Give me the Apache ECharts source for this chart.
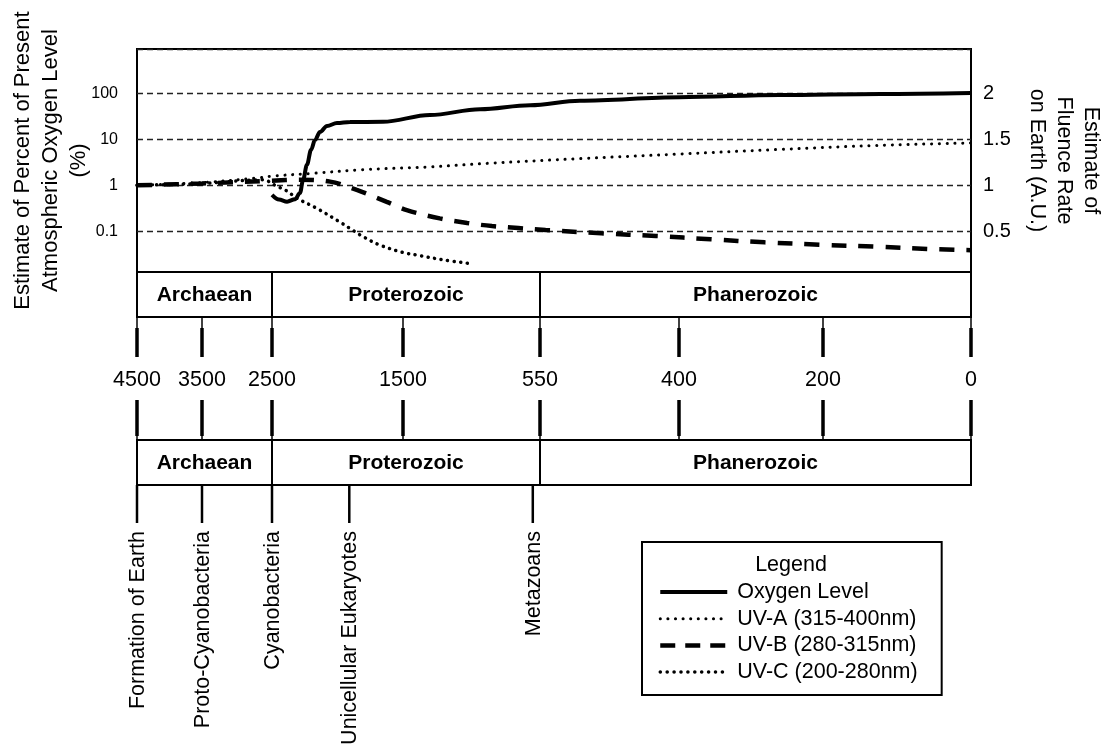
<!DOCTYPE html>
<html><head><meta charset="utf-8">
<script src="https://cdn.jsdelivr.net/npm/echarts@6/dist/echarts.min.js"></script>
<style>html,body{margin:0;padding:0;background:#fff}#c{width:1103px;height:751px}</style>
</head><body><div id="c"></div>
<script>
// ---------- data ----------
const tickAges = [4500, 3500, 2500, 1500, 550, 400, 200, 0];
const eraNames = ['Archaean', 'Proterozoic', 'Phanerozoic'];
const eraStart = [4500, 2500, 550];
const eraEnd   = [2500, 550, 0];
const eventNames = ['Formation of Earth', 'Proto-Cyanobacteria', 'Cyanobacteria', 'Unicellular Eukaryotes', 'Metazoans'];
const eventAges  = [4500, 3500, 2500, 1910, 600];

const oxygenAges   = [2500, 2447, 2385, 2324, 2286, 2263, 2233, 2202, 2172, 2134, 2080, 2004, 1905, 1653, 1313, 966, 619, 507, 399, 260, 122, 0];
const oxygenValues = [0.62, 0.49, 0.44, 0.50, 0.68, 1.3, 2.8, 5.9, 9.6, 14.4, 19.5, 22.6, 23.8, 24, 33.7, 45, 55, 69, 82, 92, 97, 102];

const uvaAges   = [4500, 3500, 2700, 2500, 2190, 1805, 1313, 897, 507, 399, 260, 122, 0];
const uvaValues = [1.0, 1.03, 1.08, 1.10, 1.13, 1.17, 1.20, 1.24, 1.29, 1.34, 1.39, 1.435, 1.46];

const uvbAges   = [4500, 3500, 2500, 2290, 2057, 1853, 1624, 1474, 1245, 1055, 883, 700, 544, 484, 425, 356, 281, 204, 129, 55, 0];
const uvbValues = [1.0, 1.02, 1.05, 1.06, 1.04, 0.95, 0.82, 0.73, 0.64, 0.59, 0.557, 0.535, 0.514, 0.478, 0.449, 0.413, 0.38, 0.354, 0.333, 0.307, 0.295];

const uvcAges   = [4500, 3500, 2630, 2464, 2388, 2311, 2159, 1981, 1882, 1803, 1676, 1500, 1382, 1223, 1035];
const uvcValues = [1.0, 1.02, 1.06, 0.99, 0.94, 0.86, 0.75, 0.60, 0.51, 0.44, 0.35, 0.27, 0.235, 0.19, 0.15];

// ---------- piecewise time scale (axis units along the time axis for each tick age) ----------
const tickAxisPos = [0, 65, 135, 266, 403, 542, 686, 834];
function ageToPos(age) {
  for (let i = 0; i < tickAges.length - 1; i++) {
    const a0 = tickAges[i], a1 = tickAges[i + 1];
    if (age <= a0 && age >= a1) {
      return tickAxisPos[i] + (a0 - age) / (a0 - a1) * (tickAxisPos[i + 1] - tickAxisPos[i]);
    }
  }
  return age > tickAges[0] ? tickAxisPos[0] : tickAxisPos[tickAxisPos.length - 1];
}
const pair = (ages, vals) => ages.map((a, i) => [ageToPos(a), vals[i]]);

const FONT = '"Liberation Sans", Arial, Helvetica, sans-serif';
const BLACK = '#000';

// ---------- line styles ----------
const styleOxygen = { color: BLACK, width: 4 };
const styleUVA = { color: BLACK, width: 3, type: [0.1, 7.7], cap: 'round' };
const styleUVB = { color: BLACK, width: 4.5, type: [15, 12] };
const styleUVC = { color: BLACK, width: 3.5, type: [0.1, 6.5], cap: 'round' };

// ---------- timeline renderers ----------
function eraRenderer(yOff, h) {
  return function (params, api) {
    const cs = params.coordSys;
    const x0 = api.coord([api.value(0), 0])[0];
    const x1 = api.coord([api.value(1), 0])[0];
    const y = cs.y + yOff;
    return {
      type: 'group', children: [
        { type: 'rect', shape: { x: x0, y: y, width: x1 - x0, height: h }, style: { fill: '#fff', stroke: BLACK, lineWidth: 2 } },
        { type: 'text', x: (x0 + x1) / 2, y: y + h / 2 + 1, style: { text: eraNames[params.dataIndex], font: 'bold 21px ' + FONT, fill: BLACK, align: 'center', verticalAlign: 'middle' } }
      ]
    };
  };
}
function tickRenderer(params, api) {
  const cs = params.coordSys;
  const x = api.coord([api.value(0), 0])[0];
  const t = cs.y;
  return {
    type: 'group', children: [
      { type: 'line', shape: { x1: x, y1: t + 45, x2: x, y2: t + 85 }, style: { stroke: BLACK, lineWidth: 1.5 } },
      { type: 'line', shape: { x1: x, y1: t + 56, x2: x, y2: t + 85 }, style: { stroke: BLACK, lineWidth: 3.5 } },
      { type: 'text', x: x, y: t + 108, style: { text: String(tickAges[params.dataIndex]), font: '21.5px ' + FONT, fill: BLACK, align: 'center', verticalAlign: 'middle' } },
      { type: 'line', shape: { x1: x, y1: t + 128, x2: x, y2: t + 168 }, style: { stroke: BLACK, lineWidth: 1.5 } },
      { type: 'line', shape: { x1: x, y1: t + 128, x2: x, y2: t + 164 }, style: { stroke: BLACK, lineWidth: 3.5 } }
    ]
  };
}
function eventRenderer(params, api) {
  const cs = params.coordSys;
  const x = api.coord([api.value(0), 0])[0];
  const t = cs.y;
  return {
    type: 'group', children: [
      { type: 'line', shape: { x1: x, y1: t + 213, x2: x, y2: t + 251 }, style: { stroke: BLACK, lineWidth: 2.5 } },
      { type: 'text', x: x + 1, y: t + 259, rotation: Math.PI / 2, style: { text: eventNames[params.dataIndex], font: '21.5px ' + FONT, fill: BLACK, align: 'right', verticalAlign: 'middle' } }
    ]
  };
}

const GRID_LEFT = 137, GRID_W = 834;
const option = {
  animation: false,
  backgroundColor: '#fff',
  grid: [
    { left: GRID_LEFT, top: 49, width: GRID_W, height: 223, show: true, borderColor: BLACK, borderWidth: 2, backgroundColor: 'transparent', containLabel: false, outerBoundsMode: 'none' },
    { left: GRID_LEFT, top: 272, width: GRID_W, height: 479, show: false, containLabel: false, outerBoundsMode: 'none' }
  ],
  xAxis: [
    { type: 'value', gridIndex: 0, min: 0, max: GRID_W, show: false },
    { type: 'value', gridIndex: 1, min: 0, max: GRID_W, show: false }
  ],
  yAxis: [
    {
      type: 'log', gridIndex: 0, position: 'left', logBase: 10, min: 0.01303, max: 918,
      axisLine: { show: false }, axisTick: { show: false },
      axisLabel: {
        fontSize: 16, fontFamily: FONT, color: BLACK, margin: 19, showMinLabel: false, showMaxLabel: false,
        formatter: v => { const l = Math.log10(v); return Math.abs(l - Math.round(l)) < 1e-6 ? String(+v.toPrecision(3)) : ''; }
      },
      splitLine: { show: true, lineStyle: { color: '#222', width: 1.3, type: [6, 4] } },
      name: 'Estimate of Percent of Present\nAtmospheric Oxygen Level\n(%)',
      nameLocation: 'middle', nameRotate: 90, nameGap: 44, nameMoveOverlap: false,
      nameTextStyle: { fontSize: 22, fontFamily: FONT, color: BLACK, lineHeight: 28, align: 'center' }
    },
    {
      type: 'value', gridIndex: 0, position: 'right', min: 0.0576, max: 2.4815,
      axisLine: { show: false }, axisTick: { show: false }, splitLine: { show: false },
      axisLabel: { fontSize: 20, fontFamily: FONT, color: BLACK, margin: 12, showMinLabel: false, showMaxLabel: false },
      name: 'Estimate of\nFluence Rate\non Earth (A.U.)',
      nameLocation: 'middle', nameRotate: -90, nameGap: 52,
      nameTextStyle: { fontSize: 21.5, fontFamily: FONT, color: BLACK, lineHeight: 27, align: 'center' }
    },
    { type: 'value', gridIndex: 1, min: 0, max: 1, show: false }
  ],
  legend: {
    data: [
      { name: 'Oxygen Level', lineStyle: { width: 4 } },
      { name: 'UV-A (315-400nm)', lineStyle: { width: 3, cap: 'round', type: [0.1, 7.5] } },
      { name: 'UV-B (280-315nm)', lineStyle: { width: 4.5, type: [15, 10] } },
      { name: 'UV-C (200-280nm)', lineStyle: { width: 3.5, cap: 'round', type: [0.1, 6.8] } }
    ],
    orient: 'vertical', left: 642, top: 542, align: 'left',
    padding: [39, 24, 12, 16], itemGap: 4.7, itemWidth: 67, itemHeight: 14,
    borderColor: BLACK, borderWidth: 2,
    itemStyle: { opacity: 0 },
    textStyle: { fontSize: 21.5, fontFamily: FONT, color: BLACK, lineHeight: 22, padding: [0, 0, 0, 5] }
  },
  graphic: [
    { type: 'text', x: 791, y: 565, style: { text: 'Legend', font: '21.5px ' + FONT, fill: BLACK, align: 'center', verticalAlign: 'middle' } }
  ],
  series: [
    {
      name: 'Oxygen Level', type: 'line', xAxisIndex: 0, yAxisIndex: 0, data: pair(oxygenAges, oxygenValues),
      symbol: 'none', smooth: 0.35, smoothMonotone: 'x',
      lineStyle: styleOxygen, itemStyle: { color: BLACK }, z: 5
    },
    {
      name: 'UV-A (315-400nm)', type: 'line', xAxisIndex: 0, yAxisIndex: 1, data: pair(uvaAges, uvaValues),
      symbol: 'none', smooth: 0.35, lineStyle: styleUVA, itemStyle: { color: BLACK }
    },
    {
      name: 'UV-B (280-315nm)', type: 'line', xAxisIndex: 0, yAxisIndex: 1, data: pair(uvbAges, uvbValues),
      symbol: 'none', smooth: 0.35, lineStyle: styleUVB, itemStyle: { color: BLACK }
    },
    {
      name: 'UV-C (200-280nm)', type: 'line', xAxisIndex: 0, yAxisIndex: 1, data: pair(uvcAges, uvcValues),
      symbol: 'none', smooth: 0.35, lineStyle: styleUVC, itemStyle: { color: BLACK }
    },
    {
      type: 'custom', xAxisIndex: 1, yAxisIndex: 2, renderItem: eraRenderer(0, 45),
      data: eraStart.map((s, i) => [ageToPos(s), ageToPos(eraEnd[i])]), encode: { x: [0, 1] }, silent: true
    },
    {
      type: 'custom', xAxisIndex: 1, yAxisIndex: 2, renderItem: tickRenderer,
      data: tickAges.map(a => [ageToPos(a), 0]), encode: { x: 0, y: 1 }, silent: true
    },
    {
      type: 'custom', xAxisIndex: 1, yAxisIndex: 2, renderItem: eraRenderer(168, 45),
      data: eraStart.map((s, i) => [ageToPos(s), ageToPos(eraEnd[i])]), encode: { x: [0, 1] }, silent: true
    },
    {
      type: 'custom', xAxisIndex: 1, yAxisIndex: 2, renderItem: eventRenderer,
      data: eventAges.map(a => [ageToPos(a), 0]), encode: { x: 0, y: 1 }, silent: true
    }
  ]
};
const chart = echarts.init(document.getElementById('c'), null, { renderer: 'canvas' });
chart.setOption(option);
</script>
</body></html>
